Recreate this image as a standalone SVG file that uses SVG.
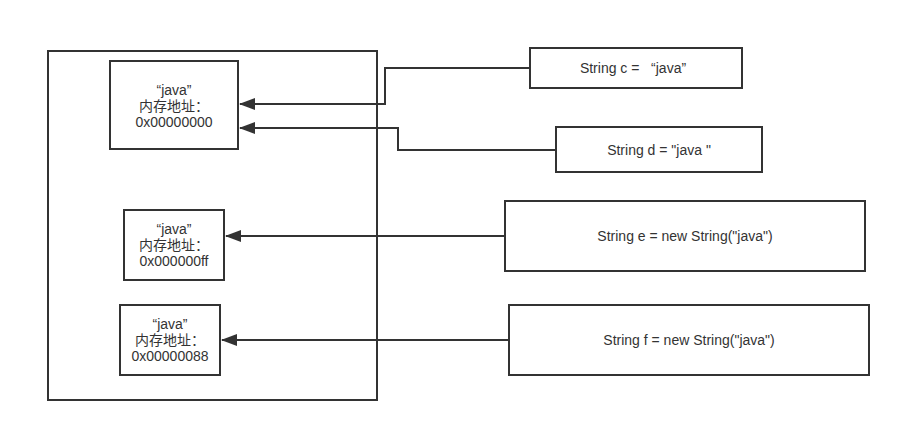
<svg xmlns="http://www.w3.org/2000/svg" width="901" height="432" viewBox="0 0 901 432">
<style>
.box{fill:#fff;stroke:#333;stroke-width:2}
.t{font-family:"Liberation Sans","Noto Sans CJK SC",sans-serif;font-size:14px;fill:#333;text-anchor:middle;white-space:pre}
.c{fill:none;stroke:#333;stroke-width:2}
</style>
<defs>
<marker id="a" markerWidth="16" markerHeight="12" refX="15" refY="6" orient="auto" markerUnits="userSpaceOnUse" viewBox="0 0 16 12">
<path d="M0,0 L16,6 L0,12 Z" fill="#333"/>
</marker>
</defs>
<rect width="901" height="432" fill="#fff"/>
<g id="heap"><rect class="box" x="48" y="51" width="329" height="349"/></g>
<g id="obj1"><rect class="box" x="110" y="61" width="128" height="88"/>
<text class="t"><tspan x="174" y="95">“java”</tspan><tspan x="174" y="111">内存地址：</tspan><tspan x="174" y="127">0x00000000</tspan></text></g>
<g id="obj2"><rect class="box" x="124" y="210" width="100" height="70"/>
<text class="t"><tspan x="174" y="234">“java”</tspan><tspan x="174" y="250">内存地址：</tspan><tspan x="174" y="266">0x000000ff</tspan></text></g>
<g id="obj3"><rect class="box" x="120" y="305" width="100" height="70"/>
<text class="t"><tspan x="170" y="329">“java”</tspan><tspan x="170" y="345">内存地址：</tspan><tspan x="170" y="361">0x00000088</tspan></text></g>
<g id="c"><rect class="box" x="530" y="48" width="212" height="40"/><text class="t" x="633" y="73" xml:space="preserve">String c =   “java”</text></g>
<g id="d"><rect class="box" x="556" y="127" width="206" height="45"/><text class="t" x="659" y="155">String d = "java "</text></g>
<g id="e"><rect class="box" x="505" y="201" width="360" height="70"/><text class="t" x="685" y="241">String e = new String("java")</text></g>
<g id="f"><rect class="box" x="509" y="305" width="360" height="70"/><text class="t" x="689" y="345">String f = new String("java")</text></g>
<g id="connectors">
<polyline class="c" points="530,68 385,68 385,104 240,104" marker-end="url(#a)"/>
<polyline class="c" points="556,150 398,150 398,128 240,128" marker-end="url(#a)"/>
<polyline class="c" points="505,236 226,236" marker-end="url(#a)"/>
<polyline class="c" points="509,340 222,340" marker-end="url(#a)"/>
</g>
</svg>
